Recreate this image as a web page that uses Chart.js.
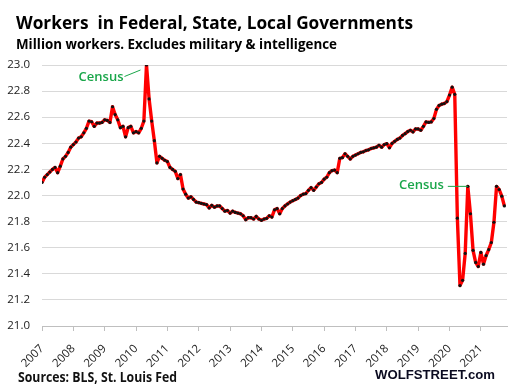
<!DOCTYPE html>
<html>
<head>
<meta charset="utf-8">
<script src="https://cdn.jsdelivr.net/npm/chart.js@4.4.0/dist/chart.umd.min.js"></script>
<style>
  html, body { margin: 0; padding: 0; background: #fff; }
  #wrap { position: relative; width: 512px; height: 387px; overflow: hidden; }
  #chart { position: absolute; left: 0; top: 0; }
  .txt { position: absolute; white-space: pre; line-height: 1; color: #000; transform-origin: left top; }
  #title { left: 16px; top: 10px; font: bold 18px "Open Sans"; }
  #subtitle { left: 16px; top: 34px; font: bold 14px "Open Sans"; }
  #sources { left: 18px; top: 367px; font: bold 14px "Open Sans"; color: #111; }
  #brand { left: 375px; top: 367px; font: bold 13px "Liberation Sans"; color: #0b0b20; }
</style>
</head>
<body>
<div id="wrap">
  <canvas id="chart" width="512" height="387"></canvas>
  <div class="txt" id="title" data-w="397">Workers  in Federal, State, Local Governments</div>
  <div class="txt" id="subtitle" data-w="321">Million workers. Excludes military &amp; intelligence</div>
  <div class="txt" id="sources" data-w="159">Sources: BLS, St. Louis Fed</div>
  <div class="txt" id="brand" data-w="120">WOLFSTREET.com</div>
</div>
<script>
// Valores mensais (milhões), jan/2007 a out/2021
const w2007 = [22.10, 22.14, 22.16, 22.18, 22.20, 22.215, 22.175, 22.225, 22.28, 22.30, 22.33, 22.37];
const w2008 = [22.39, 22.41, 22.44, 22.45, 22.48, 22.515, 22.57, 22.565, 22.53, 22.555, 22.555, 22.56];
const w2009 = [22.58, 22.575, 22.56, 22.68, 22.62, 22.58, 22.52, 22.53, 22.45, 22.52, 22.53, 22.48];
const w2010 = [22.49, 22.48, 22.515, 22.57, 23.00, 22.74, 22.57, 22.42, 22.25, 22.30, 22.285, 22.27];
const w2011 = [22.26, 22.215, 22.20, 22.185, 22.13, 22.16, 22.05, 22.01, 21.98, 21.99, 21.97, 21.95];
const w2012 = [21.945, 21.94, 21.935, 21.93, 21.905, 21.925, 21.91, 21.92, 21.92, 21.90, 21.88, 21.885];
const w2013 = [21.865, 21.88, 21.87, 21.865, 21.86, 21.845, 21.815, 21.83, 21.83, 21.82, 21.84, 21.82];
const w2014 = [21.81, 21.82, 21.825, 21.845, 21.835, 21.89, 21.90, 21.86, 21.90, 21.92, 21.935, 21.95];
const w2015 = [21.96, 21.97, 21.98, 22.00, 22.01, 22.015, 22.04, 22.06, 22.04, 22.065, 22.09, 22.10];
const w2016 = [22.125, 22.14, 22.175, 22.19, 22.195, 22.175, 22.285, 22.29, 22.32, 22.30, 22.28, 22.30];
const w2017 = [22.31, 22.32, 22.33, 22.335, 22.345, 22.35, 22.36, 22.365, 22.37, 22.385, 22.37, 22.39];
const w2018 = [22.397, 22.366, 22.40, 22.415, 22.43, 22.44, 22.46, 22.474, 22.49, 22.50, 22.487, 22.51];
const w2019 = [22.51, 22.50, 22.53, 22.564, 22.56, 22.564, 22.59, 22.66, 22.69, 22.70, 22.705, 22.72];
const w2020 = [22.77, 22.83, 22.775, 21.826, 21.31, 21.35, 21.556, 22.07, 21.86, 21.58, 21.487, 21.456];
const w2021 = [21.564, 21.474, 21.54, 21.585, 21.64, 21.795, 22.07, 22.046, 21.995, 21.92];

const yearLabels = ['2007', '2008', '2009', '2010', '2011', '2012', '2013', '2014',
                    '2015', '2016', '2017', '2018', '2019', '2020', '2021'];
const yTickValues = [21.0, 21.2, 21.4, 21.6, 21.8, 22.0, 22.2, 22.4, 22.6, 22.8, 23.0];

// Anotações "Census": índice do mês apontado
const censusNotes = [
  { label: 'Census', month: 40 },   // mai/2010
  { label: 'Census', month: 163 },  // ago/2020
];

const workers = [].concat(w2007, w2008, w2009, w2010, w2011, w2012, w2013, w2014,
                          w2015, w2016, w2017, w2018, w2019, w2020, w2021);
const points = workers.map((v, i) => ({ x: i, y: v }));

// ── Ajuste de largura dos textos (fonte substituta do Calibri) ──
document.querySelectorAll('.txt').forEach(el => {
  const target = Number(el.dataset.w);
  const k = target / el.getBoundingClientRect().width;
  el.style.transform = `scaleX(${k})`;
});

const censusPlugin = {
  id: 'census',
  afterDatasetsDraw(chart) {
    const { ctx, scales: { x, y } } = chart;
    ctx.save();
    ctx.font = '600 13px "Open Sans"';
    ctx.fillStyle = '#1aa64a';
    ctx.strokeStyle = '#1aa64a';
    ctx.lineWidth = 1;
    ctx.textAlign = 'right';
    ctx.textBaseline = 'middle';

    censusNotes.forEach((note, idx) => {
      const px = x.getPixelForValue(note.month);
      const py = y.getPixelForValue(workers[note.month]);
      ctx.beginPath();
      if (idx === 0) {
        ctx.moveTo(px - 6, py + 5);
        ctx.lineTo(px - 22, py + 11.5);
        ctx.stroke();
        ctx.fillText(note.label, px - 23, py + 12);
      } else {
        ctx.moveTo(px, py);
        ctx.lineTo(px - 20, py);
        ctx.stroke();
        ctx.fillText(note.label, px - 24, py - 1);
      }
    });
    ctx.restore();
  },
};

new Chart(document.getElementById('chart'), {
  type: 'line',
  data: {
    datasets: [{
      data: points,
      borderColor: '#ff0000',
      borderWidth: 3.4,
      borderJoinStyle: 'round',
      pointRadius: 1.6,
      pointBorderWidth: 0,
      pointBackgroundColor: '#111',
      tension: 0,
    }],
  },
  options: {
    responsive: false,
    animation: false,
    events: [],
    layout: { padding: { left: 0, right: 5, top: 65, bottom: 0 } },
    plugins: { legend: { display: false }, tooltip: { enabled: false }, title: { display: false } },
    scales: {
      x: {
        type: 'linear',
        min: 0,
        max: 178,
        afterBuildTicks: scale => {
          scale.ticks = yearLabels.map((_, i) => ({ value: i * 12 }));
        },
        afterFit: scale => { scale.height = 61; },
        ticks: {
          autoSkip: false,
          maxRotation: 45,
          minRotation: 45,
          padding: 11,
          color: '#222',
          font: { family: 'Open Sans', size: 11.5 },
          callback: v => yearLabels[v / 12],
        },
        grid: { drawOnChartArea: false, tickLength: 5, color: '#bfbfbf' },
        border: { display: true, color: '#bfbfbf' },
      },
      y: {
        min: 21,
        max: 23,
        afterBuildTicks: scale => {
          scale.ticks = yTickValues.map(v => ({ value: v }));
        },
        afterFit: scale => { scale.width = 42; },
        ticks: {
          padding: 12,
          color: '#222',
          font: { family: 'Open Sans', size: 11.5 },
          callback: v => v.toFixed(1),
        },
        grid: { color: '#d9d9d9', drawTicks: false },
        border: { display: false },
      },
    },
  },
  plugins: [censusPlugin],
});
</script>
</body>
</html>
